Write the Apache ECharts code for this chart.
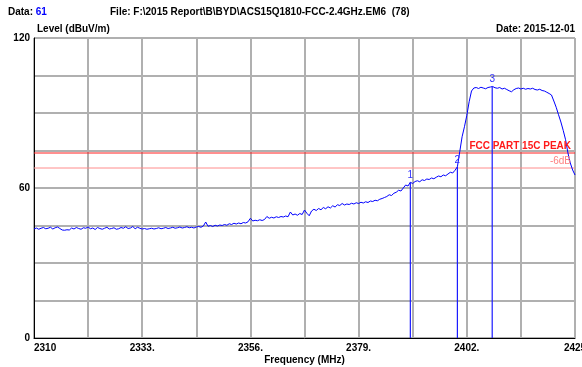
<!DOCTYPE html>
<html>
<head>
<meta charset="utf-8">
<script src="https://cdn.jsdelivr.net/npm/echarts@6/dist/echarts.min.js"></script>
<style>
html,body{margin:0;padding:0;background:#fff;}
#c{width:582px;height:367px;}
</style>
</head>
<body>
<div id="c"></div>
<script>
// ---- data ----
var freqStart = 2310;     // MHz, first sweep point
var freqStep = 0.5;       // MHz between sweep points
var freqMin = 2310;
var freqMax = 2425;
var levels = [
  43.6, 44.0, 43.5, 43.9, 44.2, 43.7, 43.9, 44.3, 43.6, 44.1,
  44.4, 43.8, 43.2, 43.1, 43.3, 43.2, 44.0, 43.6, 44.2, 43.8,
  43.5, 44.1, 43.9, 44.4, 43.7, 44.0, 43.4, 44.2, 43.8, 43.5,
  43.9, 44.3, 43.6, 43.8, 44.1, 43.5, 43.7, 44.2, 43.9, 44.5,
  43.8, 44.0, 44.6, 43.7, 44.3, 43.9, 43.6, 43.8, 43.5, 43.7,
  43.9, 43.6, 43.8, 44.1, 43.7, 43.9, 44.2, 43.8, 44.0, 44.3,
  43.9, 44.1, 44.4, 44.0, 44.2, 44.5, 44.1, 44.3, 44.0, 44.4,
  44.6, 44.3, 44.8, 46.4, 44.7, 45.0, 44.6, 45.1, 44.8, 45.2,
  45.0, 45.4, 45.1, 45.7, 45.4, 45.9, 45.6, 46.0, 45.7, 46.2,
  46.0, 46.5, 47.9, 46.8, 47.1, 46.9, 47.3, 47.0, 47.4, 48.6,
  47.9, 48.3, 48.0, 48.5, 48.2, 48.6, 48.4, 48.8, 48.5, 50.4,
  49.2, 49.6, 49.1, 49.8, 49.4, 51.2, 49.9, 48.9, 50.8, 51.5,
  51.0, 51.8, 51.3, 52.2, 51.7, 52.5, 52.0, 52.9, 52.4, 53.3,
  53.0, 53.8, 53.2, 53.6, 53.4, 53.9, 53.6, 54.1, 53.8, 54.3,
  54.0, 54.5, 54.2, 54.8, 54.6, 55.1, 54.9, 55.5, 55.8, 56.2,
  56.6, 57.3, 57.0, 57.9, 58.3, 59.1, 58.8, 60.0, 61.2, 60.8,
  62.3, 61.8, 62.6, 62.9, 62.5, 63.3, 63.0, 63.6, 63.4, 64.0,
  63.7, 64.3, 64.8, 64.5, 65.2, 64.9, 65.6, 66.3, 66.0, 67.1,
  68.5, 74.5, 80.5, 84.5, 89.0, 94.5, 98.8, 100.0,
  100.2, 99.8, 100.3, 100.0, 99.7, 100.2, 100.4, 100.6, 100.1, 99.9,
  100.2, 99.6, 99.9, 99.4, 98.9, 98.5, 99.3, 99.8, 100.0, 99.6,
  99.9, 99.5, 99.8, 99.6, 99.9, 99.4, 99.2, 99.5, 99.0, 98.8,
  98.3, 97.8,
  97.2, 94.8, 92.3, 89.3, 86.4, 83.0, 79.3, 74.0, 70.0, 67.2, 65.2
];
var markerFreqs = [2390.0, 2400.0, 2407.4];
var markerLevels = [62.3, 68.5, 100.6];
var markerNames = ['1', '2', '3'];
var limitPeak = 74;
var limitMargin = 68;
var xTickLabels = ['2310', '2333.', '2356.', '2379.', '2402.', '2425'];
var yTickLabels = {0: '0', 60: '60', 120: '120'};

// ---- build ----
var FONT = "'Liberation Sans', Arial, sans-serif";
var traceData = levels.map(function (v, i) {
  return [freqStart + i * freqStep - freqMin, v];
});
var markerSeries = markerFreqs.map(function (f, i) {
  return {
    type: 'line', symbol: 'none', silent: true,
    lineStyle: {color: '#1a1aff', width: 1.2},
    data: [[f - freqMin, 0], [f - freqMin, markerLevels[i]]],
    markPoint: {
      symbol: 'rect', symbolSize: 0,
      label: {show: true, formatter: markerNames[i], color: '#3030ff', fontSize: 10, fontFamily: FONT, offset: [0, -7]},
      data: [{coord: [f - freqMin, markerLevels[i]]}]
    }
  };
});

var chart = echarts.init(document.getElementById('c'), null, {renderer: 'canvas'});
var option = {
  animation: false,
  backgroundColor: '#ffffff',
  grid: {left: 34, right: 7, top: 38, bottom: 29, containLabel: false, outerBoundsMode: 'none',
         show: true, borderColor: '#000', borderWidth: 1, backgroundColor: '#fff'},
  graphic: [
    {type: 'text', left: 8, top: 7, style: {
      text: '{a|Data: }{b|61}', fontFamily: FONT,
      rich: {a: {fontSize: 10, fontWeight: 'bold', fill: '#000', fontFamily: FONT}, b: {fontSize: 10, fontWeight: 'bold', fill: '#0000ff', fontFamily: FONT}}
    }},
    {type: 'text', left: 110, top: 7, style: {
      text: 'File: F:\\2015 Report\\B\\BYD\\ACS15Q1810-FCC-2.4GHz.EM6  (78)',
      fontSize: 10, fontWeight: 'bold', fill: '#000', fontFamily: FONT
    }},
    {type: 'text', left: 37, top: 24, style: {
      text: 'Level (dBuV/m)', fontSize: 10, fontWeight: 'bold', fill: '#000', fontFamily: FONT
    }},
    {type: 'text', right: 7, top: 24, style: {
      text: 'Date: 2015-12-01', fontSize: 10, fontWeight: 'bold', fill: '#000', fontFamily: FONT
    }}
  ],
  xAxis: {
    type: 'value', min: 0, max: freqMax - freqMin, interval: 11.5,
    axisLine: {show: true, lineStyle: {color: '#000'}},
    axisTick: {show: false},
    splitLine: {show: true, lineStyle: {color: '#b0b0b0', width: 2}},
    axisLabel: {
      color: '#000', fontSize: 10, fontWeight: 'bold', fontFamily: FONT, margin: 5,
      showMinLabel: true, showMaxLabel: true, alignMinLabel: 'left', hideOverlap: false,
      formatter: function (v) {
        var k = Math.round(v / 11.5);
        return (k % 2 === 0) ? xTickLabels[k / 2] : '';
      }
    },
    name: 'Frequency (MHz)', nameLocation: 'middle', nameGap: 17, nameMoveOverlap: false,
    nameTextStyle: {color: '#000', fontSize: 10, fontWeight: 'bold', fontFamily: FONT}
  },
  yAxis: {
    type: 'value', min: 0, max: 120, interval: 15,
    axisLine: {show: true, lineStyle: {color: '#000'}},
    axisTick: {show: false},
    splitLine: {show: true, lineStyle: {color: '#b0b0b0', width: 2}},
    axisLabel: {
      color: '#000', fontSize: 10, fontWeight: 'bold', fontFamily: FONT, margin: 4,
      formatter: function (v) { return yTickLabels[v] !== undefined ? yTickLabels[v] : ''; }
    }
  },
  series: [
    {
      type: 'line', symbol: 'none', silent: true,
      lineStyle: {color: '#ff2020', width: 1},
      data: [[0, limitPeak], [freqMax - freqMin, limitPeak]],
      markPoint: {
        symbol: 'rect', symbolSize: 0,
        label: {show: true, formatter: 'FCC PART 15C PEAK', color: '#ff1a1a', fontSize: 10, fontWeight: 'bold', fontFamily: FONT, align: 'right', offset: [-4, -7]},
        data: [{coord: [freqMax - freqMin, limitPeak]}]
      }
    },
    {
      type: 'line', symbol: 'none', silent: true,
      lineStyle: {color: '#ff8c8c', width: 1},
      data: [[0, limitMargin], [freqMax - freqMin, limitMargin]],
      markPoint: {
        symbol: 'rect', symbolSize: 0,
        label: {show: true, formatter: '-6dB', color: '#ff8080', fontSize: 10, fontFamily: FONT, align: 'right', offset: [-4, -7]},
        data: [{coord: [freqMax - freqMin, limitMargin]}]
      }
    },
    {
      type: 'line', symbol: 'none', silent: true,
      lineStyle: {color: '#0000ff', width: 1},
      data: traceData
    }
  ].concat(markerSeries)
};
chart.setOption(option);
</script>
</body>
</html>
